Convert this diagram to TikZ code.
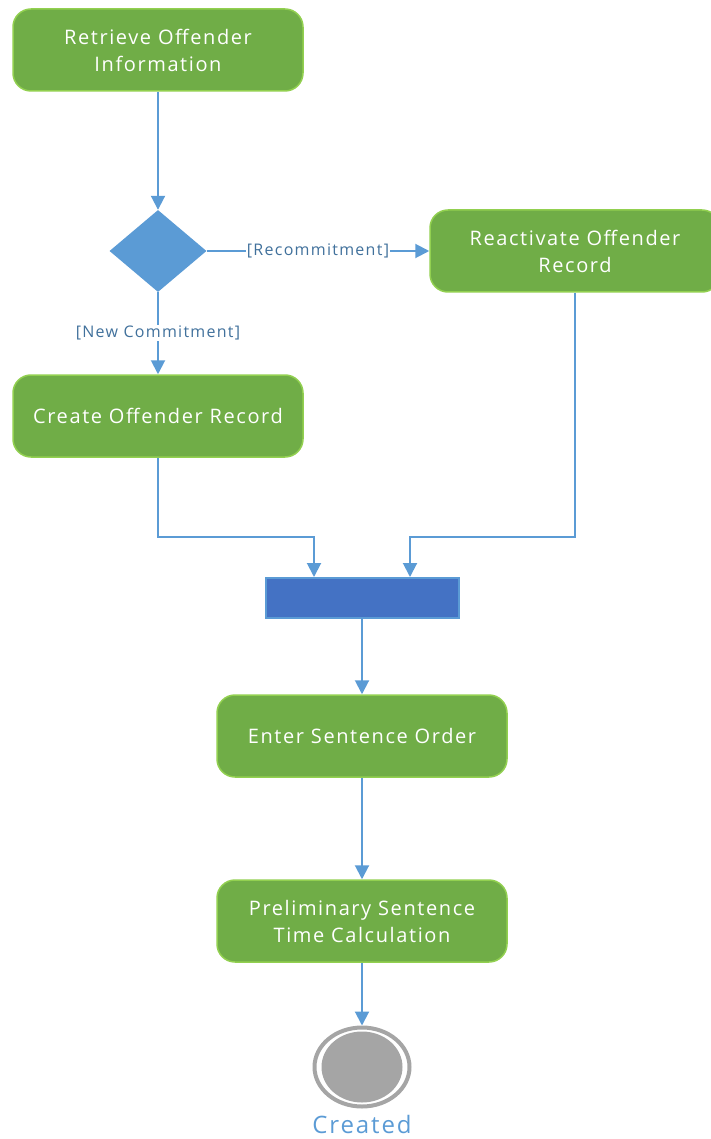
\documentclass[tikz,border=0pt]{standalone}
\usepackage{fontspec}
\setmainfont{Open Sans}[LetterSpace=8]
\usetikzlibrary{calc,shapes.geometric,arrows.meta}
\definecolor{actgreen}{HTML}{70AD47}
\definecolor{actborder}{HTML}{92D050}
\definecolor{flowblue}{HTML}{5B9BD5}
\definecolor{barblue}{HTML}{4472C4}
\definecolor{guardblue}{HTML}{41719C}
\definecolor{endgray}{HTML}{A5A5A5}

\begin{document}
\begin{tikzpicture}[x=1pt,y=-1pt,
    action/.style={rectangle,rounded corners=18pt,fill=actgreen,draw=actborder,line width=1.5pt,text=white,minimum width=290pt,minimum height=82pt,align=center,font=\fontsize{20}{27}\selectfont},
    guard/.style={fill=white,text=guardblue,inner sep=1pt,font=\fontsize{16}{18}\selectfont},
    link/.style={draw=flowblue,line width=2pt,-{Triangle[width=14pt,length=14pt]}}]
      \useasboundingbox (0,0) rectangle (710,1139);

      \node[action] (retrieve) at (158,50) {Retrieve Offender\\Information};
      \node[diamond,fill=flowblue,inner sep=0pt,minimum width=97pt,minimum height=82pt] (decision) at (158,251) {};
      \node[action] (reactivate) at (575,251) {Reactivate Offender\\Record};
      \node[action] (create record) at (158,416) {Create Offender Record};
      \node[rectangle,fill=barblue,draw=flowblue,line width=2pt,minimum width=193pt,minimum height=40pt] (join bar) at (362,598) {};
      \node[action] (enter order) at (362,736) {Enter Sentence Order};
      \node[action] (time calc) at (362,921) {Preliminary Sentence\\Time Calculation};
      \node[ellipse,draw=endgray,line width=4pt,fill=white,minimum width=95pt,minimum height=79pt] (final) at (362,1067) {};
      \node[ellipse,fill=endgray,minimum width=81pt,minimum height=71pt] (final core) at (final) {};
      \node[text=flowblue,font=\fontsize{24}{27}\selectfont] (created) at (362,1124) {Created};

      \draw[link] (retrieve) -- (decision);
      \draw[link] (decision) -- node[guard] {[Recommitment]} (reactivate);
      \draw[link] (decision) -- node[guard] {[New Commitment]} (create record);
      \draw[link] (create record) |- ($ (join bar.north) + (-48,-40) $) -- ($ (join bar.north) + (-48,0) $);
      \draw[link] (reactivate) |- ($ (join bar.north) + (48,-40) $) -- ($ (join bar.north) + (48,0) $);
      \draw[link] (join bar) -- (enter order);
      \draw[link] (enter order) -- (time calc);
      \draw[link] (time calc) -- (final);
    \end{tikzpicture}
\end{document}
